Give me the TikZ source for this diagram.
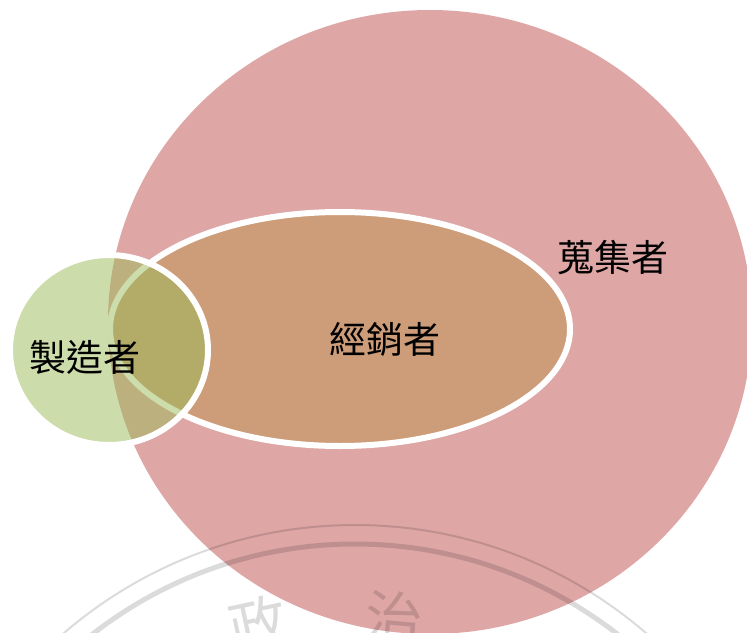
\documentclass[tikz,border=0pt]{standalone}
\usepackage{fontspec}
\newfontfamily\cjk{Noto Sans CJK TC}
\usetikzlibrary{shapes.geometric}
\definecolor{pinkc}{HTML}{DFA6A6}
\definecolor{orangec}{HTML}{CD9D7A}
\definecolor{greenc}{HTML}{9BBB59}
\tikzset{
  blob/.style={ellipse, inner sep=0pt, outer sep=0pt},
  label/.style={font=\cjk\fontsize{37}{40}\selectfont, text=black, inner sep=0pt},
  wm/.style={draw=black, draw opacity=0.14},
  wmtext/.style={font=\cjk\fontsize{58}{60}\selectfont, text=black, text opacity=0.14, inner sep=0pt}
}
\begin{document}
\begin{tikzpicture}[x=1pt,y=-1pt]
\useasboundingbox (0,0) rectangle (747,632);
\clip (0,0) rectangle (747,632);
\fill[white] (0,0) rectangle (747,632);
% collector (large pink)
\node[blob, fill=pinkc, minimum width=644pt, minimum height=624pt] (collector) at (430,322) {};
% distributor (orange ellipse, white border)
\node[blob, fill=orangec, draw=white, line width=6pt, minimum width=460pt, minimum height=234pt] (distributor) at (340,329) {};
% manufacturer (green, translucent)
\node[blob, fill=greenc, fill opacity=0.5, draw=white, line width=6pt, minimum width=198pt, minimum height=190pt] (manufacturer) at (109,350) {};
% labels
\node[label] (tcollector) at (613,258) {蒐集者};
\node[label] (tdistributor) at (385,339) {經銷者};
\node[label] (tmanufacturer) at (85,357) {製造者};
% watermark seal
\draw[wm, line width=2pt] (355,971) circle[radius=446pt];
\draw[wm, line width=5pt] (355,971) circle[radius=427pt];
\node[wmtext, rotate=12] (wmzheng) at (258,624) {政};
\node[wmtext, rotate=-5] (wmzhi) at (394,618) {治};
\end{tikzpicture}
\end{document}
